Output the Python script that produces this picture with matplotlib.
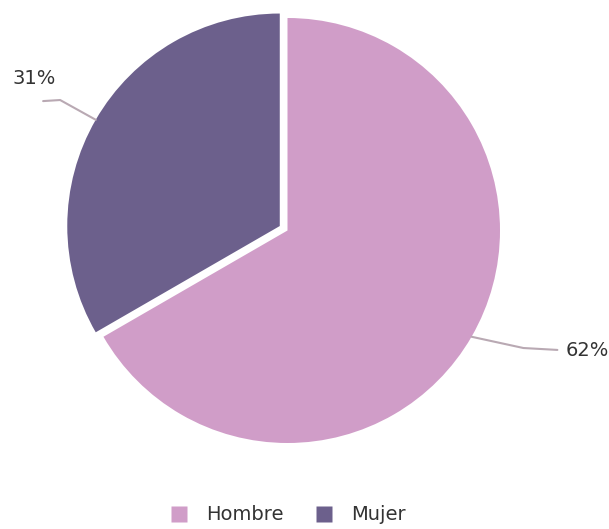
import numpy as np
import matplotlib
matplotlib.use('Agg')
import matplotlib.pyplot as plt
from matplotlib.lines import Line2D

labels = ['Hombre', 'Mujer']
values = [62, 31]
pct_text = ['62%', '31%']
colors = ['#D09DC8', '#6C608C']

TEXT_COLOR = '#333333'
LINE_COLOR = '#B9A9B3'

fig = plt.figure(figsize=(6.09, 5.29), dpi=100)
# square box so the pie sits where the original one does
ax = fig.add_axes([75 / 609, 86 / 529, 425 / 609, 425 / 529])

wedges, _ = ax.pie(values, colors=colors, startangle=90, counterclock=False,
                   explode=[0, 0.042], radius=1.0,
                   wedgeprops=dict(linewidth=0))
ax.set_xlim(-1, 1)
ax.set_ylim(-1, 1)
ax.axis('off')


def rim_point(w):
    mid = np.deg2rad((w.theta1 + w.theta2) / 2)
    cx, cy = w.center
    return cx + np.cos(mid), cy + np.sin(mid)


# Mujer label, upper left
x0, y0 = rim_point(wedges[1])
ax.plot([x0, -1.07, -1.15], [y0, 0.614, 0.609], color=LINE_COLOR, lw=1.5, clip_on=False,
        solid_capstyle='round')
ax.text(-1.19, 0.713, pct_text[1], ha='center', va='center', fontsize=14, color=TEXT_COLOR)

# Hombre label, lower right
x1, y1 = rim_point(wedges[0])
ax.plot([x1, 1.11, 1.27], [y1, -0.553, -0.562], color=LINE_COLOR, lw=1.5, clip_on=False,
        solid_capstyle='round')
ax.text(1.31, -0.567, pct_text[0], ha='left', va='center', fontsize=14, color=TEXT_COLOR)

handles = [Line2D([], [], marker='s', linestyle='none', markersize=11,
                  markerfacecolor=c, markeredgecolor='none') for c in colors]
fig.legend(handles, labels, loc='center', bbox_to_anchor=(287.5 / 609, 14 / 529),
           ncol=2, frameon=False, fontsize=14, handlelength=1.0, handletextpad=0.9,
           columnspacing=1.6, labelcolor=TEXT_COLOR)

fig.savefig('out.png', dpi=100, facecolor='white')
